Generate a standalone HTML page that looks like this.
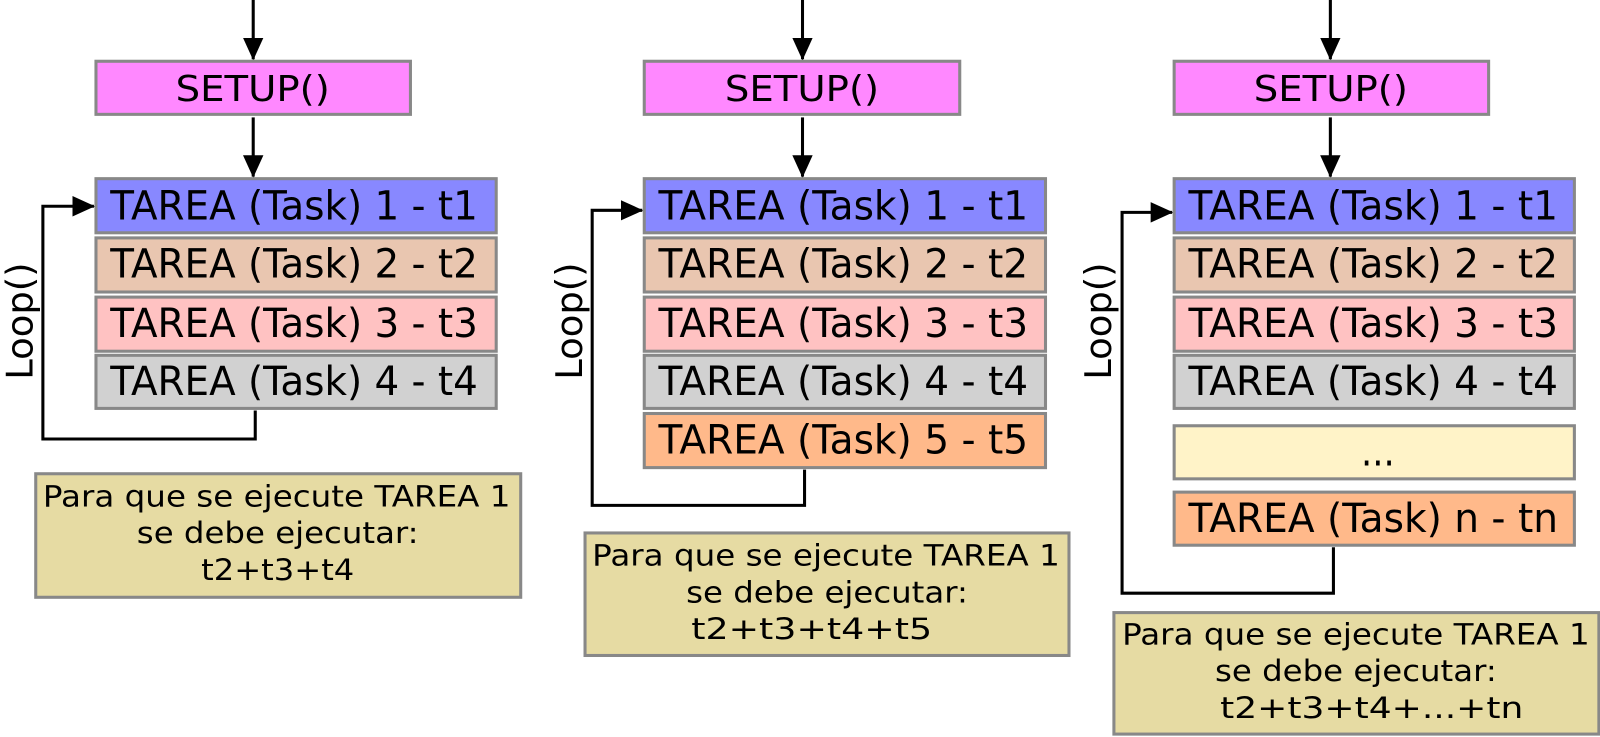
<!DOCTYPE html>
<html><head><meta charset="utf-8"><style>html,body{margin:0;padding:0;background:#fff}svg{display:block}</style></head>
<body>
<svg width="1600" height="737" viewBox="0 0 1600 737" xmlns="http://www.w3.org/2000/svg" font-family="DejaVu Sans, Liberation Sans, sans-serif">
<defs>
<marker id="b" markerWidth="22" markerHeight="20" refX="21" refY="10" orient="auto" markerUnits="userSpaceOnUse"><path d="M0,0 L22,10 L0,20 z" fill="#000"/></marker>
</defs>
<g transform="scale(1.021)">
<g stroke="#888" stroke-width="3">
<rect x="94" y="60" width="308" height="52" fill="#ff88ff"/>
<rect x="94" y="175" width="392" height="53" fill="#8888ff"/>
<rect x="94" y="233" width="392" height="53" fill="#e9c6b0"/>
<rect x="94" y="291" width="392" height="53" fill="#ffc2c2"/>
<rect x="94" y="348" width="392" height="52" fill="#d1d1d1"/>
<rect x="35" y="464" width="475" height="121" fill="#e6dba3"/>
<rect x="631" y="60" width="309" height="52" fill="#ff88ff"/>
<rect x="631" y="175" width="393" height="53" fill="#8888ff"/>
<rect x="631" y="233" width="393" height="53" fill="#e9c6b0"/>
<rect x="631" y="291" width="393" height="53" fill="#ffc2c2"/>
<rect x="631" y="348" width="393" height="52" fill="#d1d1d1"/>
<rect x="631" y="405" width="393" height="53" fill="#ffb98a"/>
<rect x="573" y="522" width="474" height="120" fill="#e6dba3"/>
<rect x="1150" y="60" width="308" height="52" fill="#ff88ff"/>
<rect x="1150" y="175" width="392" height="53" fill="#8888ff"/>
<rect x="1150" y="233" width="392" height="53" fill="#e9c6b0"/>
<rect x="1150" y="291" width="392" height="53" fill="#ffc2c2"/>
<rect x="1150" y="348" width="392" height="52" fill="#d1d1d1"/>
<rect x="1150" y="417" width="392" height="52" fill="#fff3c8"/>
<rect x="1150" y="482" width="392" height="52" fill="#ffb98a"/>
<rect x="1091" y="600" width="475" height="119" fill="#e6dba3"/>
</g>
<g stroke="#000" stroke-width="3" fill="none">
<line x1="248" y1="0" x2="248" y2="58" marker-end="url(#b)"/>
<line x1="248" y1="115" x2="248" y2="173" marker-end="url(#b)"/>
<polyline points="250,402 250,430 42,430 42,202 92,202" marker-end="url(#b)"/>
<line x1="786" y1="0" x2="786" y2="58" marker-end="url(#b)"/>
<line x1="786" y1="115" x2="786" y2="173" marker-end="url(#b)"/>
<polyline points="788,460 788,495 580,495 580,206 629,206" marker-end="url(#b)"/>
<line x1="1303" y1="0" x2="1303" y2="58" marker-end="url(#b)"/>
<line x1="1303" y1="115" x2="1303" y2="173" marker-end="url(#b)"/>
<polyline points="1306,536 1306,581 1099,581 1099,208 1148,208" marker-end="url(#b)"/>
</g>
<g font-size="35" fill="#000">
<text x="172" y="99" textLength="151" lengthAdjust="spacingAndGlyphs">SETUP()</text>
<text x="710" y="99" textLength="151" lengthAdjust="spacingAndGlyphs">SETUP()</text>
<text x="1228" y="99" textLength="151" lengthAdjust="spacingAndGlyphs">SETUP()</text>
</g>
<g font-size="39" fill="#000">
<text x="108" y="215" textLength="360" lengthAdjust="spacingAndGlyphs">TAREA (Task) 1 - t1</text>
<text x="108" y="272" textLength="360" lengthAdjust="spacingAndGlyphs">TAREA (Task) 2 - t2</text>
<text x="108" y="330" textLength="360" lengthAdjust="spacingAndGlyphs">TAREA (Task) 3 - t3</text>
<text x="108" y="387" textLength="360" lengthAdjust="spacingAndGlyphs">TAREA (Task) 4 - t4</text>
<text x="645" y="215" textLength="362" lengthAdjust="spacingAndGlyphs">TAREA (Task) 1 - t1</text>
<text x="645" y="272" textLength="362" lengthAdjust="spacingAndGlyphs">TAREA (Task) 2 - t2</text>
<text x="645" y="330" textLength="362" lengthAdjust="spacingAndGlyphs">TAREA (Task) 3 - t3</text>
<text x="645" y="387" textLength="362" lengthAdjust="spacingAndGlyphs">TAREA (Task) 4 - t4</text>
<text x="645" y="444" textLength="362" lengthAdjust="spacingAndGlyphs">TAREA (Task) 5 - t5</text>
<text x="1164" y="215" textLength="362" lengthAdjust="spacingAndGlyphs">TAREA (Task) 1 - t1</text>
<text x="1164" y="272" textLength="362" lengthAdjust="spacingAndGlyphs">TAREA (Task) 2 - t2</text>
<text x="1164" y="330" textLength="362" lengthAdjust="spacingAndGlyphs">TAREA (Task) 3 - t3</text>
<text x="1164" y="387" textLength="362" lengthAdjust="spacingAndGlyphs">TAREA (Task) 4 - t4</text>
<text x="1333" y="456" textLength="33" lengthAdjust="spacingAndGlyphs">...</text>
<text x="1164" y="521" textLength="362" lengthAdjust="spacingAndGlyphs">TAREA (Task) n - tn</text>
</g>
<g font-size="36" fill="#000">
<text transform="translate(32,372) rotate(-90)" textLength="115" lengthAdjust="spacingAndGlyphs">Loop()</text>
<text transform="translate(570,372) rotate(-90)" textLength="115" lengthAdjust="spacingAndGlyphs">Loop()</text>
<text transform="translate(1088,372) rotate(-90)" textLength="115" lengthAdjust="spacingAndGlyphs">Loop()</text>
</g>
<g font-size="29" fill="#000">
<text x="42" y="496" textLength="458" lengthAdjust="spacingAndGlyphs">Para que se ejecute TAREA 1</text>
<text x="134" y="532" textLength="276" lengthAdjust="spacingAndGlyphs">se debe ejecutar:</text>
<text x="197" y="568" textLength="150" lengthAdjust="spacingAndGlyphs">t2+t3+t4</text>
<text x="580" y="554" textLength="458" lengthAdjust="spacingAndGlyphs">Para que se ejecute TAREA 1</text>
<text x="672" y="590" textLength="276" lengthAdjust="spacingAndGlyphs">se debe ejecutar:</text>
<text x="677" y="626" textLength="236" lengthAdjust="spacingAndGlyphs">t2+t3+t4+t5</text>
<text x="1099" y="631" textLength="458" lengthAdjust="spacingAndGlyphs">Para que se ejecute TAREA 1</text>
<text x="1190" y="667" textLength="276" lengthAdjust="spacingAndGlyphs">se debe ejecutar:</text>
<text x="1195" y="703" textLength="297" lengthAdjust="spacingAndGlyphs">t2+t3+t4+...+tn</text>
</g>
</g>
</svg>
</body></html>
